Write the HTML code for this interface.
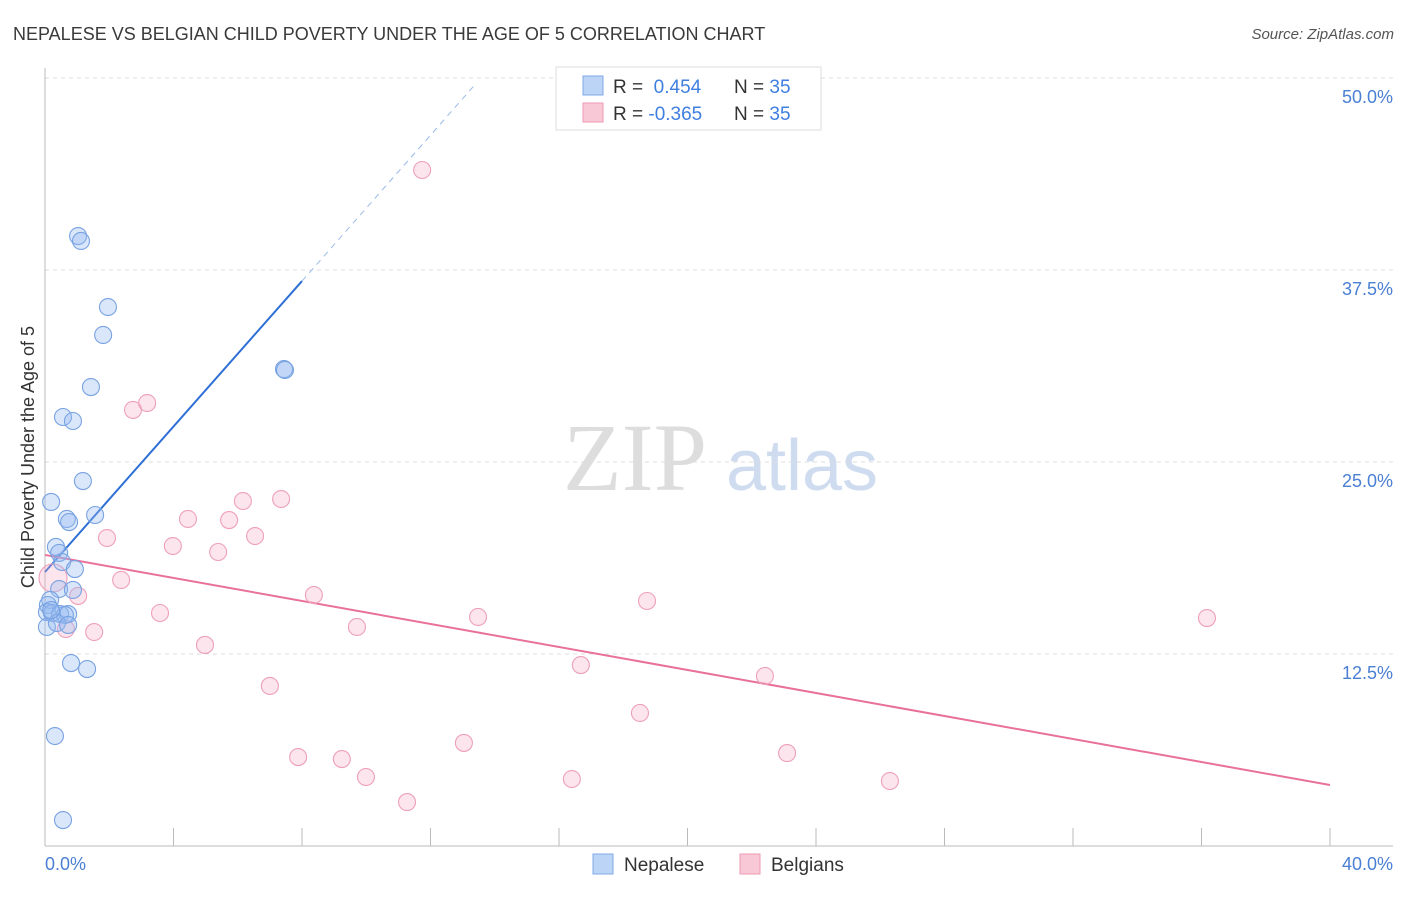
<!DOCTYPE html>
<html><head><meta charset="utf-8"><style>
body{margin:0;background:#fff;font-family:"Liberation Sans",sans-serif}
</style></head><body>
<svg width="1406" height="892" xmlns="http://www.w3.org/2000/svg">
<text x="13" y="40" font-size="18" fill="#3a3a3a">NEPALESE VS BELGIAN CHILD POVERTY UNDER THE AGE OF 5 CORRELATION CHART</text>
<text x="1394" y="39" font-size="15" fill="#555" text-anchor="end" font-style="italic">Source: ZipAtlas.com</text>
<g>
<text x="635" y="490" font-size="96" fill="#ddd" font-family="Liberation Serif,serif" text-anchor="middle">ZIP</text>
<text x="802" y="490" font-size="72" fill="#cfdcf0" text-anchor="middle">atlas</text>
</g>
<g id="grid"></g>
<line x1="45" y1="68" x2="45" y2="846" stroke="#bbb"/>
<line x1="45" y1="846" x2="1393" y2="846" stroke="#bbb"/>
<g id="xticks"></g>
<text x="34" y="457" font-size="18" fill="#333" text-anchor="middle" transform="rotate(-90 34 457)">Child Poverty Under the Age of 5</text>
<text x="45" y="870" font-size="18" fill="#4a7fd4">0.0%</text>
<text x="1393" y="870" font-size="18" fill="#4a7fd4" text-anchor="end">40.0%</text>
<g id="lines"></g>
<g id="points"></g>
<g>
<rect x="556" y="67" width="265" height="63" fill="#fff" stroke="#ddd"/>
<rect x="583" y="76" width="20" height="19" fill="#bcd4f5" stroke="#7fa8e8"/>
<rect x="583" y="103" width="20" height="19" fill="#f9c8d6" stroke="#ee99b2"/>
<text x="613" y="93" font-size="19" fill="#333">R = <tspan fill="#3f7fe0">&#160;0.454</tspan><tspan x="734">N = </tspan><tspan fill="#3f7fe0">35</tspan></text>
<text x="613" y="120" font-size="19" fill="#333">R = <tspan fill="#3f7fe0">-0.365</tspan><tspan x="734">N = </tspan><tspan fill="#3f7fe0">35</tspan></text>
</g>
<g>
<rect x="593" y="854" width="20" height="20" fill="#bcd4f5" stroke="#7fa8e8"/>
<text x="624" y="871" font-size="19" fill="#333">Nepalese</text>
<rect x="740" y="854" width="20" height="20" fill="#f9c8d6" stroke="#ee99b2"/>
<text x="771" y="871" font-size="19" fill="#333">Belgians</text>
</g>
</svg>
<script>
const yTicks=[12.5,25,37.5,50];
const yTickLabels=["12.5%","25.0%","37.5%","50.0%"];
const xTicks=[4,8,12,16,20,24,28,32,36,40];
const nepX=[1.03,1.12,1.96,1.81,1.43,0.56,0.87,1.18,0.19,0.68,0.75,1.56,0.34,0.44,0.53,0.93,0.44,0.87,0.16,0.09,0.06,0.22,0.47,0.72,0.62,0.06,0.37,0.72,0.81,1.31,0.31,0.56,7.44,7.47,0.19];
const nepY=[39.71,39.39,35.09,33.27,29.88,27.93,27.67,23.76,22.40,21.29,21.09,21.55,19.47,19.08,18.49,18.03,16.73,16.67,16.02,15.69,15.23,15.17,15.10,15.10,15.04,14.26,14.52,14.39,11.91,11.52,7.16,1.69,31.05,30.99,15.36];
const belX=[11.74,2.74,3.18,6.16,7.35,4.45,5.73,6.54,1.93,3.98,5.39,2.37,1.03,8.37,18.74,3.58,13.48,36.17,9.71,1.53,0.65,4.98,16.68,22.41,7.00,18.52,13.04,23.10,7.88,9.24,9.99,16.40,26.30,11.27,0.25];
const belY=[44.01,28.39,28.84,22.46,22.59,21.29,21.22,20.18,20.05,19.53,19.14,17.32,16.28,16.34,15.95,15.17,14.91,14.84,14.26,13.93,14.13,13.09,11.78,11.07,10.42,8.66,6.71,6.05,5.79,5.66,4.49,4.36,4.23,2.86,17.45];
const nepLine=[0,17.84,8,36.78,13.4,49.6];
const belLine=[0,18.95,40,3.97];
const NS="http://www.w3.org/2000/svg";
const sx=v=>45+v/40*1285, sy=v=>846-v/50*768;
function mk(t,a,p){const e=document.createElementNS(NS,t);for(const k in a)e.setAttribute(k,a[k]);document.getElementById(p).appendChild(e);return e;}
yTicks.forEach((t,i)=>{
 const l=mk('line',{x1:45,x2:1393,y1:sy(t),y2:sy(t),stroke:'#ddd','stroke-dasharray':'4,4'},'grid');
 
 
 const tx=mk('text',{x:1393,y:sy(t)+25,'font-size':18,fill:'#4a7fd4','text-anchor':'end'},'grid');
 tx.textContent=yTickLabels[i];
 
 
});
xTicks.forEach(t=>{
 const l=mk('line',{x1:sx(t),x2:sx(t),y1:828,y2:846,stroke:'#bbb'},'xticks');
 
 
});
const bl=mk('line',{x1:sx(nepLine[0]),y1:sy(nepLine[1]),x2:sx(nepLine[2]),y2:sy(nepLine[3]),stroke:'#2e6fd6','stroke-width':2},'lines');


const bd=mk('line',{x1:sx(nepLine[2]),y1:sy(nepLine[3]),x2:sx(nepLine[4]),y2:sy(nepLine[5]),stroke:'#9bbbe8','stroke-width':1,'stroke-dasharray':'6,5'},'lines');


const pl=mk('line',{x1:sx(belLine[0]),y1:sy(belLine[1]),x2:sx(belLine[2]),y2:sy(belLine[3]),stroke:'#e8709a','stroke-width':2},'lines');


belX.forEach((x,i)=>{
 const c=mk('circle',{cx:sx(x),cy:sy(belY[i]),r:i==34?14:8.5,fill:'rgba(245,170,195,0.3)',stroke:'#eea0ba','stroke-width':1.1},'points');
 
 
});
nepX.forEach((x,i)=>{
 const c=mk('circle',{cx:sx(x),cy:sy(nepY[i]),r:8.5,fill:'rgba(150,185,240,0.35)',stroke:'#78a2e2','stroke-width':1.1},'points');
 
 
});
</script>
</body></html>
